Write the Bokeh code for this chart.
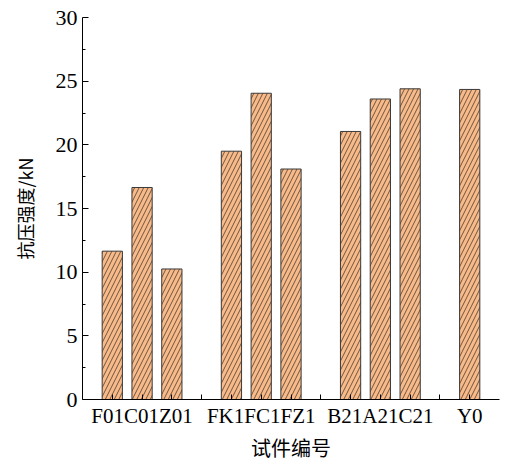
from bokeh.plotting import figure
from bokeh.models import ColumnDataSource, FixedTicker, Range1d
from bokeh.embed import file_html
from bokeh.resources import INLINE

# Data
groups = [["F01", "C01", "Z01"], ["FK1", "FC1", "FZ1"], ["B21", "A21", "C21"], ["Y0"]]
strength = {
    "F01": 11.65, "C01": 16.65, "Z01": 10.25,
    "FK1": 19.5, "FC1": 24.05, "FZ1": 18.1,
    "B21": 21.05, "A21": 23.6, "C21": 24.4,
    "Y0": 24.35,
}
y_ticks = [0, 5, 10, 15, 20, 25, 30]
x_title = "试件编号"
y_title = "抗压强度/kN"

# positions: one slot per bar, one empty slot between groups
names, xs, vals = [], [], []
all_ticks = []
overrides = {}
pos = 1
for gi, g in enumerate(groups):
    gpos = []
    for n in g:
        names.append(n)
        xs.append(pos)
        vals.append(strength[n])
        all_ticks.append(pos)
        gpos.append(pos)
        overrides[pos] = ""
        pos += 1
    # labels of a group sit side by side, as one run of text under the group
    overrides[gpos[len(gpos) // 2]] = "".join(g)
    if gi < len(groups) - 1:
        all_ticks.append(pos)
        overrides[pos] = ""
        pos += 1

src = ColumnDataSource(dict(x=xs, top=vals, name=names))

p = figure(width=507, height=464, output_backend="svg", toolbar_location=None,
           x_range=Range1d(0, 14), y_range=Range1d(0, 30),
           min_border_left=82, min_border_right=8, min_border_top=17, min_border_bottom=64)
p.outline_line_color = None
p.grid.visible = False
p.background_fill_color = "white"
p.border_fill_color = "white"

p.vbar(x="x", top="top", width=0.68, bottom=0, source=src,
       fill_color="#F7BA88", line_color="#3a3a3a", line_width=1,
       hatch_pattern="/", hatch_color="#4a3a30", hatch_scale=9, hatch_weight=0.8)

serif = "Liberation Serif"
cjk = "Noto Sans CJK SC"

xa = p.xaxis[0]
xa.ticker = FixedTicker(ticks=all_ticks)
xa.major_label_overrides = overrides
xa.major_tick_in = 5
xa.major_tick_out = 0
xa.minor_tick_in = 0
xa.minor_tick_out = 0
xa.axis_line_color = "black"
xa.major_tick_line_color = "black"
xa.major_label_text_font = serif
xa.major_label_text_font_size = "21px"
xa.major_label_text_color = "black"
xa.major_label_standoff = 4
xa.axis_label = x_title
xa.axis_label_text_font = cjk
xa.axis_label_text_font_size = "20px"
xa.axis_label_text_font_style = "normal"
xa.axis_label_text_color = "black"
xa.axis_label_standoff = 2

ya = p.yaxis[0]
ya.ticker = FixedTicker(ticks=y_ticks, minor_ticks=[2.5 + 5 * i for i in range(6)])
ya.major_tick_in = 6
ya.major_tick_out = 0
ya.minor_tick_in = 3
ya.minor_tick_out = 0
ya.axis_line_color = "black"
ya.major_tick_line_color = "black"
ya.minor_tick_line_color = "black"
ya.major_label_text_font = serif
ya.major_label_text_font_size = "22px"
ya.major_label_text_color = "black"
ya.major_label_standoff = 5
ya.axis_label = y_title
ya.axis_label_text_font = cjk
ya.axis_label_text_font_size = "18px"
ya.axis_label_text_font_style = "normal"
ya.axis_label_text_color = "black"
ya.axis_label_standoff = 15

open("out.html", "w").write(file_html(p, INLINE))
